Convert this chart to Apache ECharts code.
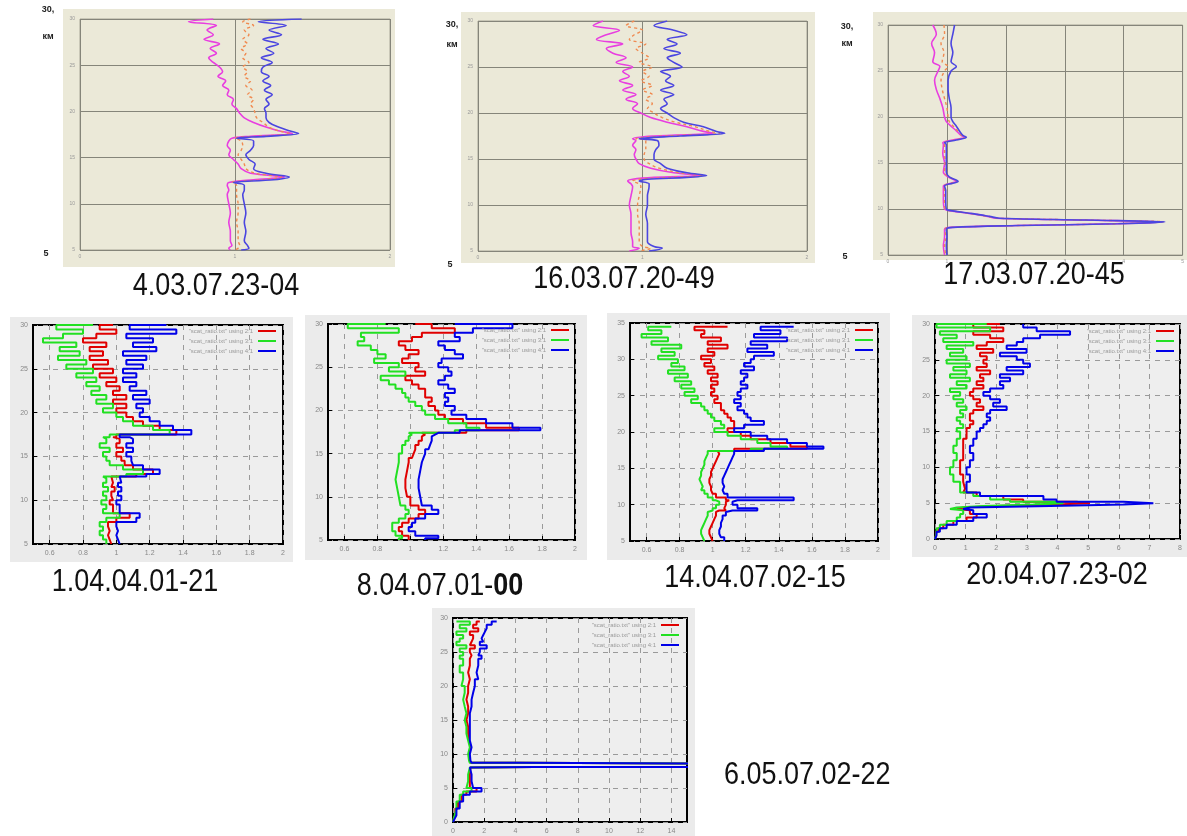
<!DOCTYPE html>
<html lang="ru">
<head>
<meta charset="UTF-8">
<style>
    html, body { margin: 0; width: 100%; height: 100%; background: #fff; }
    #main { width: 1187px; height: 836px; }
</style>
</head>
<body>
<div id="main"></div>
<script src="https://cdn.jsdelivr.net/npm/echarts@6/dist/echarts.min.js"></script>
<script>
// ---- captions ----
const captions = ['4.03.07.23-04', '16.03.07.20-49', '17.03.07.20-45', '1.04.04.01-21',
    '8.04.07.01-00', '14.04.07.02-15', '20.04.07.23-02', '6.05.07.02-22'];
const legendNames = ['"scat_ratio.txt" using 2:1', '"scat_ratio.txt" using 3:1', '"scat_ratio.txt" using 4:1'];
const ticks05to2 = [0.6, 0.8, 1, 1.2, 1.4, 1.6, 1.8, 2];
const ticks0to14 = [0, 2, 4, 6, 8, 10, 12, 14];

// ---- 4.03.07.23-04 (altitude km, ratio) ----
const h1 = [30, 29.7, 29.3, 28.8, 28.3, 27.8, 27.3, 26.8, 26.3, 25.8, 25.3, 24.8, 24.3, 23.8, 23.3, 22.8, 22.3, 21.8, 21.3, 20.8,
    20.3, 19.8, 19.3, 18.8, 18.3, 17.9, 17.6, 17.3, 17.1, 16.8, 16.3, 15.8, 15.3, 14.8, 14.3, 13.8, 13.3, 12.9, 12.6, 12.3,
    12.0, 11.5, 11, 10, 9, 8, 7, 6, 5.5, 5.2, 5];
const blue1 = [1.43, 1.15, 1.33, 1.22, 1.30, 1.18, 1.28, 1.20, 1.25, 1.17, 1.24, 1.18, 1.17, 1.22, 1.18, 1.23, 1.19, 1.24, 1.20, 1.22,
    1.19, 1.20, 1.20, 1.22, 1.28, 1.35, 1.41, 1.20, 1.01, 1.12, 1.12, 1.10, 1.07, 1.09, 1.13, 1.12, 1.20, 1.35, 1.25, 0.99,
    1.06, 1.06, 1.05, 1.06, 1.07, 1.06, 1.07, 1.06, 1.08, 1.09, 1.04];
const orange1 = [1.10, 1.05, 1.12, 1.06, 1.09, 1.05, 1.08, 1.04, 1.07, 1.05, 1.09, 1.05, 1.08, 1.06, 1.10, 1.07, 1.11, 1.08, 1.12, 1.10,
    1.12, 1.13, 1.14, 1.18, 1.22, 1.28, 1.35, 1.15, 1.00, 1.04, 1.05, 1.04, 1.02, 1.04, 1.06, 1.07, 1.13, 1.30, 1.18, 0.98,
    1.01, 1.01, 1.01, 1.02, 1.02, 1.01, 1.02, 1.02, 1.03, 1.02, 1.00];
const magenta1 = [0.86, 0.70, 0.88, 0.82, 0.86, 0.80, 0.90, 0.84, 0.88, 0.83, 0.86, 0.90, 0.92, 0.89, 0.94, 0.92, 0.96, 0.95, 0.99, 0.98,
    1.01, 1.03, 1.06, 1.12, 1.20, 1.28, 1.37, 1.10, 0.98, 0.96, 0.95, 0.97, 0.96, 0.99, 1.02, 1.04, 1.10, 1.32, 1.12, 0.96,
    0.95, 0.96, 0.95, 0.96, 0.97, 0.96, 0.97, 0.97, 0.98, 0.96, 0.97];

// ---- 16.03.07.20-49 ----
const h2 = [30, 29.5, 29, 28.5, 28, 27.5, 27, 26.5, 26, 25.5, 25, 24.5, 24, 23.5, 23, 22.5, 22, 21.5, 21, 20.5,
    20, 19.5, 19, 18.5, 18, 17.8, 17.5, 17.2, 17, 16.5, 16, 15.5, 15, 14.5, 14, 13.5, 13.2, 13, 12.8, 12.6,
    12.3, 12, 11, 10, 9, 8, 7, 6, 5.5, 5.3, 5];
const blue2 = [1.15, 1.07, 1.19, 1.27, 1.15, 1.21, 1.13, 1.23, 1.15, 1.19, 1.24, 1.11, 1.17, 1.14, 1.19, 1.11, 1.19, 1.13, 1.15, 1.11,
    1.15, 1.19, 1.25, 1.37, 1.45, 1.50, 1.23, 0.98, 1.09, 1.10, 1.08, 1.07, 1.07, 1.11, 1.15, 1.27, 1.39, 1.27, 1.03, 0.98,
    1.04, 1.04, 1.03, 1.03, 1.02, 1.03, 1.03, 1.03, 1.07, 1.12, 1.04];
const orange2 = [0.95, 0.90, 1.00, 0.95, 0.92, 1.02, 0.96, 1.00, 1.04, 0.98, 1.06, 1.00, 1.04, 0.99, 1.06, 1.00, 1.06, 1.02, 1.06, 1.03,
    1.07, 1.12, 1.20, 1.32, 1.41, 1.47, 1.15, 0.96, 1.02, 1.02, 1.02, 1.01, 1.01, 1.04, 1.10, 1.23, 1.37, 1.17, 0.98, 0.94,
    0.98, 0.99, 0.98, 0.97, 0.97, 0.98, 0.98, 0.98, 1.00, 1.05, 0.98];
const magenta2 = [0.76, 0.70, 0.86, 0.78, 0.72, 0.88, 0.78, 0.82, 0.90, 0.84, 0.94, 0.88, 0.92, 0.86, 0.94, 0.88, 0.96, 0.90, 0.97, 0.94,
    0.99, 1.05, 1.15, 1.27, 1.37, 1.43, 1.07, 0.94, 0.96, 0.94, 0.96, 0.95, 0.96, 0.98, 1.05, 1.19, 1.35, 1.07, 0.94, 0.91,
    0.93, 0.94, 0.93, 0.92, 0.93, 0.93, 0.93, 0.94, 0.94, 0.98, 0.92];

// ---- 17.03.07.20-45 ----
const h3 = [30, 29, 28, 27, 26, 25.5, 25, 24, 23, 22, 21, 20, 19.5, 19, 18.5, 18, 17.8, 17.5, 17.2, 17,
    16, 15, 14, 13.5, 13, 12.8, 12.5, 12, 11, 10, 9.8, 9.5, 9.2, 9, 8.8, 8.6, 8.4, 8.2, 8, 7.8, 7, 6, 5];
const blue3 = [1.13, 1.10, 1.07, 1.10, 1.07, 1.16, 1.07, 1.02, 1.02, 1.04, 1.07, 1.07, 1.10, 1.16, 1.21, 1.27, 1.33, 1.16, 0.96, 0.99,
    0.99, 0.99, 0.99, 1.04, 1.19, 1.10, 0.96, 0.98, 0.98, 0.99, 1.10, 1.44, 1.72, 1.89, 3.35, 4.70, 3.91, 2.22, 1.10, 0.99,
    1.00, 0.99, 1.00];
const orange3 = [0.95, 0.96, 0.90, 0.95, 0.92, 1.02, 0.96, 0.90, 0.92, 0.96, 1.00, 1.02, 1.04, 1.11, 1.18, 1.25, 1.31, 1.13, 0.95, 0.96,
    0.96, 0.97, 0.96, 1.03, 1.17, 1.08, 0.95, 0.96, 0.96, 0.97, 1.08, 1.42, 1.70, 1.86, 3.32, 4.67, 3.88, 2.20, 1.08, 0.97,
    0.98, 0.96, 0.98];
const magenta3 = [0.76, 0.82, 0.74, 0.79, 0.76, 0.88, 0.85, 0.79, 0.82, 0.88, 0.93, 0.96, 0.99, 1.07, 1.16, 1.24, 1.30, 1.10, 0.93, 0.94,
    0.93, 0.96, 0.94, 1.02, 1.16, 1.07, 0.94, 0.94, 0.94, 0.96, 1.07, 1.41, 1.69, 1.83, 3.29, 4.64, 3.85, 2.17, 1.07, 0.96,
    0.96, 0.94, 0.96];

// ---- 1.04.04.01-21 ----
const h4 = [30, 29.5, 29, 28.5, 28, 27.5, 27, 26.5, 26, 25.5, 25, 24.5, 24, 23.5, 23, 22.5, 22, 21.5, 21, 20.5,
    20, 19.5, 19, 18.5, 18, 17.5, 17.2, 17, 16.5, 16, 15.5, 15, 14.5, 14, 13.5, 13, 12.7, 12.5, 12, 11.5,
    11, 10.5, 10, 9.5, 9, 8.5, 8, 7.5, 7, 6.5, 6, 5.5, 5];
const red4 = [0.98, 0.90, 1.00, 0.88, 0.80, 0.94, 0.84, 0.92, 0.84, 0.95, 0.86, 0.98, 0.90, 1.00, 0.94, 1.02, 0.98, 1.06, 0.98, 1.06,
    1.00, 1.06, 1.10, 1.16, 1.26, 1.36, 1.00, 0.98, 1.02, 1.00, 1.04, 1.00, 1.03, 1.05, 1.10, 1.22, 1.12, 0.97, 0.98, 0.97,
    0.99, 0.97, 0.98, 0.96, 0.98, 0.98, 1.08, 1.00, 0.95, 0.96, 0.95, 0.96, 0.97];
const green4 = [0.86, 0.64, 0.80, 0.68, 0.56, 0.76, 0.66, 0.78, 0.65, 0.82, 0.70, 0.86, 0.76, 0.88, 0.82, 0.90, 0.85, 0.94, 0.88, 0.98,
    0.92, 1.00, 1.04, 1.10, 1.22, 1.32, 0.96, 0.92, 0.94, 0.90, 0.96, 0.92, 0.94, 0.96, 1.04, 1.16, 1.06, 0.92, 0.94, 0.92,
    0.95, 0.92, 0.94, 0.91, 0.94, 0.92, 1.02, 0.94, 0.90, 0.92, 0.90, 0.92, 0.94];
const blue4 = [1.30, 1.08, 1.36, 1.06, 1.22, 1.10, 1.24, 1.04, 1.18, 1.06, 1.16, 1.04, 1.12, 1.04, 1.12, 1.08, 1.18, 1.10, 1.20, 1.12,
    1.16, 1.14, 1.20, 1.26, 1.34, 1.45, 1.02, 1.08, 1.10, 1.06, 1.10, 1.06, 1.09, 1.10, 1.16, 1.26, 1.18, 1.02, 1.03, 1.01,
    1.03, 1.01, 1.03, 1.00, 1.02, 1.02, 1.14, 1.12, 1.00, 1.01, 1.00, 1.01, 1.02];

// ---- 8.04.07.01-00 ----
const h5 = [30, 29.5, 29, 28.5, 28, 27.5, 27, 26.5, 26, 25.5, 25, 24.5, 24, 23.5, 23, 22.5, 22, 21.5, 21, 20.5,
    20, 19.5, 19, 18.5, 18, 17.7, 17.4, 17.2, 17, 16.5, 16, 15.5, 15, 14.5, 14, 13, 12, 11, 10, 9,
    8.5, 8, 7.5, 7, 6.5, 6, 5.5, 5.2, 5];
const red5 = [1.03, 1.13, 1.27, 1.07, 1.01, 0.93, 0.97, 1.05, 0.99, 0.95, 1.05, 1.03, 1.09, 0.97, 1.01, 1.05, 1.09, 1.09, 1.13, 1.11,
    1.15, 1.17, 1.21, 1.32, 1.46, 1.66, 1.34, 1.07, 1.09, 1.07, 1.05, 1.03, 1.02, 1.01, 0.99, 0.98, 0.97, 0.97, 0.98, 1.00,
    1.05, 1.09, 1.05, 0.99, 0.95, 0.93, 0.95, 0.99, 0.99];
const green5 = [0.85, 0.62, 0.93, 0.70, 0.72, 0.68, 0.76, 0.80, 0.85, 0.78, 0.93, 0.87, 0.97, 0.82, 0.87, 0.91, 0.95, 0.97, 0.99, 1.03,
    1.07, 1.09, 1.15, 1.23, 1.34, 1.42, 1.27, 0.99, 1.01, 0.99, 0.97, 0.95, 0.95, 0.93, 0.93, 0.92, 0.91, 0.92, 0.93, 0.94,
    0.97, 0.99, 0.97, 0.93, 0.89, 0.89, 0.91, 0.95, 0.93];
const blue5 = [1.27, 1.62, 1.38, 1.27, 1.30, 1.17, 1.21, 1.27, 1.32, 1.19, 1.17, 1.23, 1.25, 1.21, 1.17, 1.23, 1.27, 1.21, 1.23, 1.21,
    1.27, 1.25, 1.34, 1.46, 1.62, 1.79, 1.30, 1.17, 1.15, 1.13, 1.12, 1.11, 1.09, 1.08, 1.07, 1.06, 1.05, 1.05, 1.06, 1.07,
    1.13, 1.17, 1.09, 1.03, 1.01, 0.99, 1.03, 1.17, 1.09];

// ---- 14.04.07.02-15 ----
const h6 = [34.5, 34, 33.5, 33, 32.5, 32, 31.5, 31, 30.5, 30, 29.5, 29, 28.5, 28, 27.5, 27, 26.5, 26, 25.5, 25,
    24.5, 24, 23.5, 23, 22.5, 22, 21.5, 21, 20.5, 20, 19.5, 19, 18.5, 18, 17.7, 17.4, 17.2, 17, 16.5, 16,
    15.5, 15, 14.5, 14, 13.5, 13, 12.5, 12, 11.5, 11, 10.6, 10.4, 10, 9.5, 9.2, 9, 8.5, 8, 7.5, 7,
    6.5, 6, 5.5, 5];
const red6 = [1.09, 0.89, 0.95, 0.93, 1.05, 0.97, 1.09, 0.97, 1.01, 0.93, 0.99, 0.95, 1.01, 0.97, 1.03, 0.99, 1.03, 0.99, 1.01, 0.99,
    1.03, 1.01, 1.05, 1.05, 1.07, 1.09, 1.11, 1.13, 1.13, 1.09, 1.17, 1.23, 1.35, 1.47, 1.57, 1.13, 1.03, 1.04, 1.03, 1.02,
    1.01, 1.00, 0.99, 0.99, 0.98, 0.98, 0.99, 0.99, 1.00, 1.02, 1.08, 1.10, 1.08, 1.07, 1.08, 1.04, 1.02, 1.01, 1.00, 0.99,
    0.98, 0.98, 0.99, 1.00];
const green6 = [0.75, 0.61, 0.69, 0.57, 0.73, 0.63, 0.81, 0.69, 0.77, 0.67, 0.79, 0.75, 0.83, 0.73, 0.85, 0.77, 0.87, 0.81, 0.89, 0.83,
    0.91, 0.87, 0.93, 0.95, 0.97, 0.99, 1.01, 1.05, 1.07, 1.01, 1.09, 1.17, 1.27, 1.35, 1.45, 1.23, 0.97, 0.97, 0.96, 0.95,
    0.95, 0.94, 0.93, 0.93, 0.92, 0.93, 0.94, 0.93, 0.95, 0.97, 1.00, 1.02, 1.04, 1.02, 1.00, 0.99, 0.97, 0.96, 0.95, 0.94,
    0.93, 0.93, 0.94, 0.95];
const blue6 = [1.49, 1.29, 1.41, 1.25, 1.45, 1.23, 1.33, 1.21, 1.37, 1.25, 1.23, 1.19, 1.25, 1.17, 1.21, 1.19, 1.17, 1.21, 1.17, 1.15,
    1.17, 1.13, 1.17, 1.15, 1.19, 1.21, 1.23, 1.31, 1.19, 1.13, 1.23, 1.33, 1.45, 1.57, 1.67, 1.31, 1.13, 1.13, 1.12, 1.11,
    1.10, 1.09, 1.08, 1.07, 1.06, 1.06, 1.07, 1.06, 1.07, 1.09, 1.49, 1.15, 1.12, 1.15, 1.27, 1.12, 1.08, 1.06, 1.05, 1.05,
    1.04, 1.04, 1.05, 1.07];

// ---- 20.04.07.23-02 ----
const h7 = [30, 29.5, 29, 28.5, 28, 27.5, 27, 26.5, 26, 25.5, 25, 24.5, 24, 23.5, 23, 22.5, 22, 21.5, 21, 20.5,
    20, 19.5, 19, 18.5, 18, 17.5, 17, 16.5, 16, 15.5, 15, 14, 13, 12, 11, 10, 9, 8, 7, 6.5,
    6, 5.5, 5.2, 5, 4.8, 4.6, 4.4, 4.2, 4, 3.5, 3, 2.5, 2, 1.5, 1, 0.5, 0];
const red7 = [2.12, 1.25, 2.23, 1.25, 1.80, 2.23, 1.69, 1.36, 1.90, 1.47, 1.69, 1.58, 1.69, 1.36, 1.80, 1.47, 1.58, 1.36, 1.58, 1.25,
    1.14, 1.25, 1.47, 1.36, 1.58, 1.25, 1.14, 1.14, 1.25, 1.14, 1.03, 1.03, 0.92, 0.92, 0.92, 0.82, 0.82, 0.92, 0.98, 0.92,
    1.36, 2.23, 2.88, 4.62, 5.06, 3.97, 2.01, 0.92, 0.71, 1.14, 1.36, 1.03, 0.60, 0.27, 0.11, 0.03, 0];
const green7 = [1.69, 0.05, 1.80, 0.16, 0.71, 0.27, 1.25, 0.38, 0.92, 0.49, 1.03, 0.38, 1.14, 0.60, 1.03, 0.49, 1.14, 0.71, 1.03, 0.49,
    0.82, 0.60, 0.92, 0.71, 1.03, 0.82, 0.92, 0.71, 0.82, 0.92, 0.71, 0.82, 0.71, 0.60, 0.71, 0.60, 0.49, 0.60, 0.82, 0.82,
    1.25, 1.80, 2.45, 3.97, 4.19, 3.21, 1.58, 0.71, 0.49, 0.92, 0.82, 0.71, 0.38, 0.16, 0.05, 0.03, 0];
const blue7 = [2.88, 2.88, 3.32, 4.41, 3.43, 2.88, 2.67, 2.34, 2.99, 2.12, 2.67, 2.88, 3.10, 2.34, 2.88, 2.12, 2.45, 2.12, 2.23, 1.80,
    1.58, 1.80, 2.12, 1.90, 2.34, 1.80, 1.69, 1.80, 1.69, 1.58, 1.47, 1.36, 1.25, 1.14, 1.25, 1.14, 1.03, 1.14, 1.03, 1.03,
    1.47, 3.54, 3.97, 6.15, 7.13, 6.15, 3.75, 1.14, 0.92, 1.25, 1.69, 1.25, 0.71, 0.38, 0.16, 0.05, 0];

// ---- 6.05.07.02-22 ----
const h8 = [29.5, 29, 28.5, 28, 27.5, 27, 26.5, 26, 25.5, 25, 24.5, 24, 23, 22, 21, 20, 19, 18, 17, 16,
    15, 14, 13, 12, 11, 10, 9, 8.7, 8.6, 8.5, 8.1, 8.0, 7.9, 7, 6, 5, 4.5, 4, 3, 2,
    1, 0.5, 0];
const red8 = [1.72, 1.51, 1.29, 1.62, 1.08, 1.29, 1.19, 1.08, 1.40, 1.08, 1.19, 1.08, 1.08, 0.97, 1.08, 0.97, 0.97, 0.86, 0.97, 0.97,
    0.86, 0.97, 0.97, 1.03, 1.12, 1.03, 1.08, 1.12, 4.30, 17, 17, 5.20, 1.12, 1.08, 1.08, 1.08, 1.51, 0.86, 0.54, 0.32,
    0.15, 0.06, 0];
const green8 = [0.22, 1.08, 0.43, 0.86, 0.22, 0.65, 0.43, 0.22, 0.86, 0.43, 0.65, 0.43, 0.65, 0.43, 0.65, 0.54, 0.75, 0.65, 0.75, 0.86,
    0.75, 0.86, 0.86, 0.97, 1.08, 0.97, 1.03, 1.08, 4.30, 17, 17, 5.20, 1.08, 0.97, 0.97, 0.86, 1.19, 0.65, 0.43, 0.22,
    0.11, 0.04, 0];
const blue8 = [2.80, 2.48, 2.16, 2.05, 1.94, 1.83, 1.94, 1.72, 2.16, 1.72, 1.62, 1.83, 1.62, 1.51, 1.62, 1.40, 1.29, 1.19, 1.19, 1.08,
    1.08, 1.08, 1.08, 1.08, 1.19, 1.08, 1.12, 1.19, 4.30, 17, 17, 5.20, 1.08, 1.19, 1.19, 1.29, 1.83, 1.08, 0.65, 0.43,
    0.22, 0.11, 0];

function prof(xs, hs) {
    return hs.map(function (h, i) { return [xs[i], h]; });
}

const chart = echarts.init(document.getElementById('main'));

// plot areas (px)
const grids = [
    {left: 80, top: 19, width: 310, height: 231},
    {left: 478, top: 21, width: 329, height: 230},
    {left: 888, top: 25, width: 297, height: 230},
    {left: 33, top: 325, width: 250, height: 219},
    {left: 328, top: 324, width: 247, height: 216},
    {left: 630, top: 323, width: 248, height: 218},
    {left: 935, top: 324, width: 245, height: 215},
    {left: 453, top: 618, width: 234, height: 204}
];
// outer panel boxes
const boxes = [
    [63, 9, 332, 258, '#ebe9d8'], [461, 12, 354, 251, '#ebe9d8'], [873, 12, 314, 248, '#ebe9d8'],
    [10, 317, 283, 245, '#ebebeb'], [305, 315, 282, 245, '#ebebeb'], [607, 313, 283, 247, '#ebebeb'],
    [912, 315, 275, 242, '#ebebeb'], [432, 608, 263, 228, '#ebebeb']
];
// caption centres
const capPos = [[216, 286], [624, 279], [1034, 275], [135, 582], [440, 586], [755, 578], [1057, 575], [775, 775]];

const gridOpts = grids.map(function (g, i) {
    const top = i < 3;
    return Object.assign({}, g, {
        show: true,
        backgroundColor: top ? '#ebe9d8' : '#eeeeee',
        borderColor: top ? '#a6a596' : '#000',
        borderWidth: top ? 1 : 2
    });
});

const topGrid = {lineStyle: {color: '#85857a', width: 1}};
const gnuSplit = {lineStyle: {color: '#9a9a9a', width: 1, type: [5, 5]}};

function topX(max) {
    return {type: 'value', min: 0, max: max, interval: 1, axisLine: {show: false}, axisTick: {show: false},
        axisLabel: {fontSize: 5, color: '#999', margin: 4}, splitLine: Object.assign({show: true}, topGrid)};
}
function topY() {
    return {type: 'value', min: 5, max: 30, interval: 5, axisLine: {show: false}, axisTick: {show: false},
        axisLabel: {fontSize: 5, color: '#999', margin: 5}, splitLine: Object.assign({show: true}, topGrid)};
}
function gnuX(min, max, custom, interval) {
    const ax = {type: 'value', min: min, max: max, axisLine: {show: false},
        axisTick: {show: true, inside: true, length: 4, lineStyle: {color: '#000'}},
        axisLabel: {fontSize: 7, color: '#888', margin: 6},
        splitLine: Object.assign({show: true}, gnuSplit)};
    if (custom) {
        ax.axisTick.customValues = custom;
        ax.axisLabel.customValues = custom;
    } else {
        ax.interval = interval;
    }
    return ax;
}
function gnuY(min, max) {
    return {type: 'value', min: min, max: max, interval: 5, axisLine: {show: false},
        axisTick: {show: true, inside: true, length: 4, lineStyle: {color: '#000'}},
        axisLabel: {fontSize: 7, color: '#888', margin: 5},
        splitLine: Object.assign({show: true}, gnuSplit)};
}

const xAxes = [topX(2), topX(2), topX(5),
    gnuX(0.5, 2, ticks05to2), gnuX(0.5, 2, ticks05to2), gnuX(0.5, 2, ticks05to2),
    gnuX(0, 8, null, 1), gnuX(0, 15, ticks0to14)];
const yAxes = [topY(), topY(), topY(), gnuY(5, 30), gnuY(5, 30), gnuY(5, 35), gnuY(0, 30), gnuY(0, 30)];
xAxes.forEach(function (a, i) { a.gridIndex = i; });
yAxes.forEach(function (a, i) { a.gridIndex = i; });

function topLine(gi, name, xs, hs, color, dashed) {
    return {type: 'line', name: name, xAxisIndex: gi, yAxisIndex: gi, data: prof(xs, hs),
        symbol: 'none', smooth: 0.35, silent: true,
        lineStyle: {color: color, width: dashed ? 1.4 : 1.6, type: dashed ? [3, 3] : 'solid'}};
}
function gnuLine(gi, k, xs, hs) {
    const colors = ['#e00000', '#22e022', '#0000e8'];
    return {type: 'line', name: legendNames[k], xAxisIndex: gi, yAxisIndex: gi, data: prof(xs, hs),
        symbol: 'none', step: 'end', silent: true, clip: true,
        itemStyle: {color: colors[k]},
        lineStyle: {color: colors[k], width: 2}};
}

const series = [
    topLine(0, 'p1 a', magenta1, h1, '#e83ee0'), topLine(0, 'p1 b', orange1, h1, '#f08a50', true), topLine(0, 'p1 c', blue1, h1, '#4b46e0'),
    topLine(1, 'p2 a', magenta2, h2, '#e83ee0'), topLine(1, 'p2 b', orange2, h2, '#f08a50', true), topLine(1, 'p2 c', blue2, h2, '#4b46e0'),
    topLine(2, 'p3 a', magenta3, h3, '#e83ee0'), topLine(2, 'p3 b', orange3, h3, '#f08a50', true), topLine(2, 'p3 c', blue3, h3, '#4b46e0'),
    gnuLine(3, 0, red4, h4), gnuLine(3, 1, green4, h4), gnuLine(3, 2, blue4, h4),
    gnuLine(4, 0, red5, h5), gnuLine(4, 1, green5, h5), gnuLine(4, 2, blue5, h5),
    gnuLine(5, 0, red6, h6), gnuLine(5, 1, green6, h6), gnuLine(5, 2, blue6, h6),
    gnuLine(6, 0, red7, h7), gnuLine(6, 1, green7, h7), gnuLine(6, 2, blue7, h7),
    gnuLine(7, 0, red8, h8), gnuLine(7, 1, green8, h8), gnuLine(7, 2, blue8, h8)
];

// legends inside gnuplot panels: [right edge of key, top]
const keyPos = [[276, 328], [569, 327], [873, 327], [1174, 328], [679, 622]];
const legends = keyPos.map(function (p) {
    return {data: legendNames, right: 1187 - p[0], top: p[1], orient: 'vertical', align: 'right',
        icon: 'rect', itemGap: 4, itemWidth: 18, itemHeight: 2, padding: 0, selectedMode: false,
        textStyle: {fontSize: 6, color: '#999', fontFamily: 'Liberation Sans'}};
});

const graphics = [];
boxes.forEach(function (b) {
    graphics.push({type: 'rect', z: -10, shape: {x: b[0], y: b[1], width: b[2], height: b[3]}, style: {fill: b[4]}});
});
captions.forEach(function (t, i) {
    const isBold = t === '8.04.07.01-00';
    const style = {
        text: isBold ? '8.04.07.01-{b|00}' : t,
        fontSize: 27, fontFamily: 'Liberation Sans', fill: '#111',
        textAlign: i === 7 ? 'left' : 'center', textVerticalAlign: 'middle'
    };
    if (isBold) {
        style.rich = {b: {fontSize: 27, fontFamily: 'Liberation Sans', fontWeight: 'bold', fill: '#111'}};
    }
    graphics.push({type: 'text', x: i === 7 ? 724 : capPos[i][0], y: capPos[i][1], scaleY: 1.15, style: style});
});
// altitude labels of the top panels
const kmLab = [[48, 10, 37, 254], [452, 25, 45, 265], [847, 27, 44, 257]];
kmLab.forEach(function (k) {
    const st = {fontSize: 9, fontWeight: 'bold', fontFamily: 'Liberation Sans', fill: '#222', textAlign: 'center', textVerticalAlign: 'middle'};
    graphics.push({type: 'text', x: k[0], y: k[1], style: Object.assign({text: '30,'}, st)});
    graphics.push({type: 'text', x: k[0], y: k[2], style: Object.assign({text: 'км'}, st)});
    graphics.push({type: 'text', x: k[0] - 2, y: k[3], style: Object.assign({text: '5'}, st)});
});

const option = {
    animation: false,
    backgroundColor: '#ffffff',
    grid: gridOpts,
    xAxis: xAxes,
    yAxis: yAxes,
    legend: legends,
    series: series,
    graphic: {elements: graphics}
};
chart.setOption(option);
</script>
</body>
</html>
